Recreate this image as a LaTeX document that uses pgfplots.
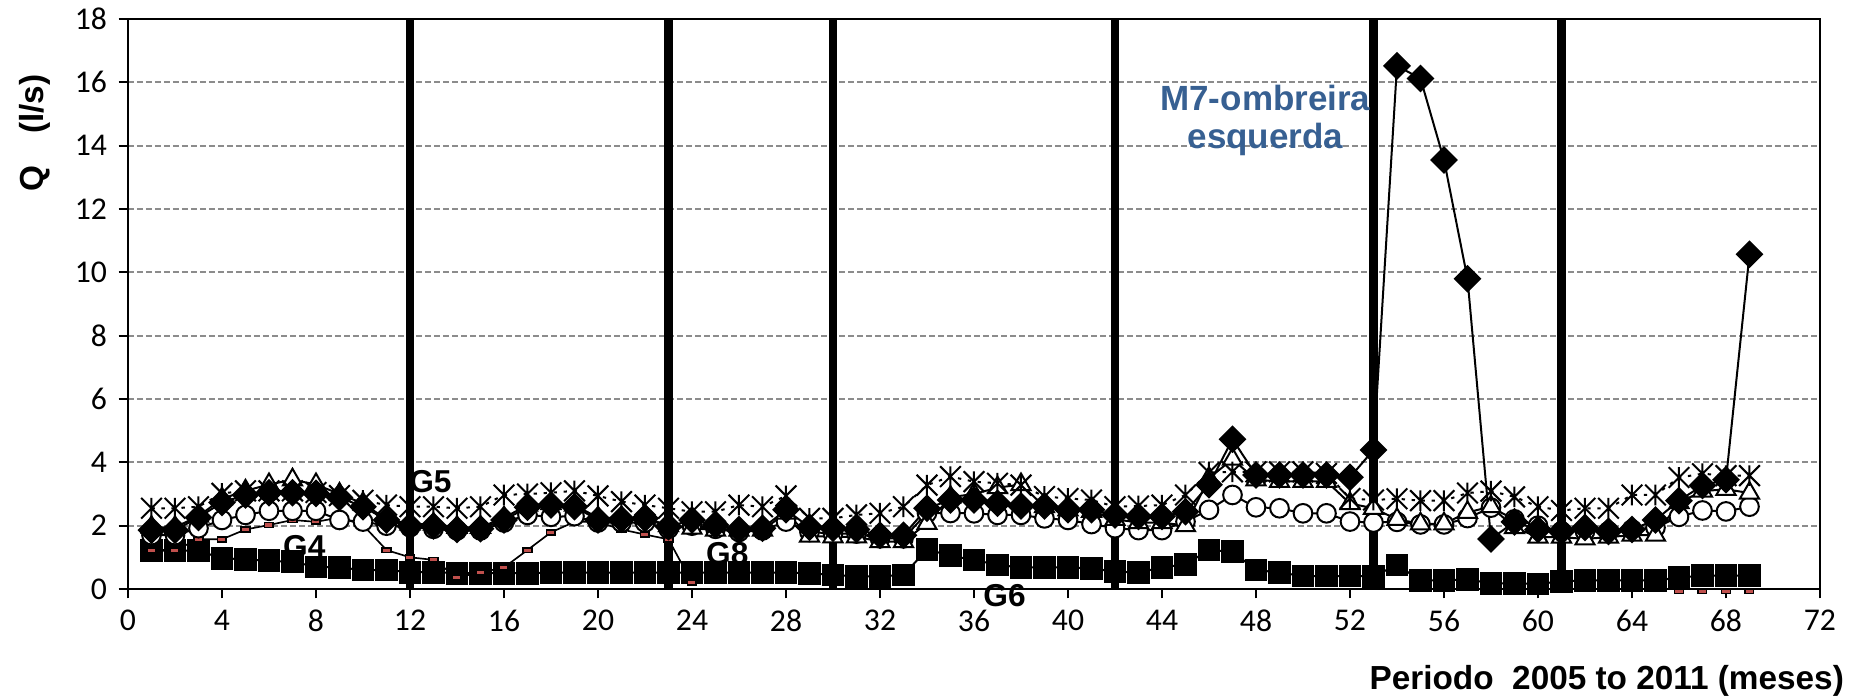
\documentclass[border=0pt]{standalone}
\usepackage{pgfplots}
\pgfplotsset{compat=1.18}
\usepackage{pgfplotstable}
\usepackage{fontspec}
\setmainfont{Liberation Sans}
\newfontfamily\carl{Carlito}
\definecolor{gridgray}{RGB}{140,140,140}
\definecolor{redmark}{RGB}{192,80,77}
\definecolor{lblblue}{RGB}{55,96,146}

\pgfdeclareplotmark{xstar}{%
 \pgfpathmoveto{\pgfqpoint{0pt}{\pgfplotmarksize}}%
 \pgfpathlineto{\pgfqpoint{0pt}{-\pgfplotmarksize}}%
 \pgfpathmoveto{\pgfqpoint{-\pgfplotmarksize}{\pgfplotmarksize}}%
 \pgfpathlineto{\pgfqpoint{\pgfplotmarksize}{-\pgfplotmarksize}}%
 \pgfpathmoveto{\pgfqpoint{-\pgfplotmarksize}{-\pgfplotmarksize}}%
 \pgfpathlineto{\pgfqpoint{\pgfplotmarksize}{\pgfplotmarksize}}%
 \pgfusepathqstroke}

\pgfplotstableread{
x S D C T A
1 1.21 1.86 1.70 1.95 2.55
2 1.21 1.86 1.70 1.95 2.55
3 1.21 2.26 1.92 2.30 2.60
4 0.97 2.73 2.18 2.85 3.02
5 0.94 2.97 2.34 3.10 3.10
6 0.89 3.04 2.47 3.30 3.10
7 0.86 3.04 2.47 3.45 3.10
8 0.70 3.02 2.47 3.30 3.05
9 0.68 2.89 2.18 3.00 2.95
10 0.60 2.60 2.13 2.70 2.80
11 0.60 2.18 2.00 2.20 2.65
12 0.53 1.99 1.95 2.05 2.60
13 0.53 1.99 1.90 2.05 2.60
14 0.50 1.88 1.85 1.95 2.55
15 0.50 1.90 1.85 1.95 2.60
16 0.50 2.18 2.10 2.25 2.97
17 0.50 2.58 2.34 2.65 3.00
18 0.52 2.65 2.28 2.70 3.04
19 0.52 2.60 2.30 2.65 3.10
20 0.52 2.18 2.10 2.25 2.94
21 0.52 2.20 2.10 2.25 2.76
22 0.52 2.23 2.10 2.25 2.65
23 0.52 1.97 1.90 2.00 2.55
24 0.52 2.18 2.00 1.92 2.44
25 0.52 2.02 1.90 1.86 2.44
26 0.52 1.88 1.80 1.86 2.65
27 0.52 1.92 1.85 1.86 2.60
28 0.52 2.50 2.13 2.40 2.94
29 0.50 1.95 1.80 1.67 2.23
30 0.44 1.92 1.75 1.65 2.23
31 0.40 1.88 1.75 1.65 2.34
32 0.40 1.70 1.60 1.50 2.39
33 0.44 1.70 1.60 1.50 2.60
34 1.25 2.55 2.40 2.07 3.28
35 1.05 2.81 2.40 2.90 3.55
36 0.92 2.81 2.39 3.00 3.39
37 0.76 2.71 2.34 3.20 3.34
38 0.68 2.62 2.34 3.30 3.28
39 0.68 2.62 2.23 2.60 2.92
40 0.68 2.50 2.18 2.50 2.86
41 0.65 2.50 2.05 2.45 2.81
42 0.55 2.34 1.92 2.20 2.60
43 0.52 2.29 1.86 2.10 2.62
44 0.68 2.29 1.86 2.10 2.65
45 0.78 2.44 2.13 2.00 2.97
46 1.23 3.29 2.50 3.50 3.68
47 1.18 4.73 2.97 4.10 3.70
48 0.60 3.60 2.58 3.45 3.70
49 0.52 3.60 2.55 3.40 3.70
50 0.41 3.60 2.39 3.40 3.70
51 0.41 3.60 2.39 3.40 3.65
52 0.41 3.53 2.13 2.70 2.86
53 0.40 4.39 2.10 2.55 2.81
54 0.76 16.52 2.12 2.20 2.85
55 0.27 16.12 2.04 2.06 2.79
56 0.27 13.55 2.04 2.06 2.79
57 0.30 9.80 2.24 2.42 3.03
58 0.18 1.58 2.57 2.60 3.09
59 0.18 2.12 2.20 1.94 2.91
60 0.16 1.88 2.00 1.64 2.60
61 0.24 1.82 1.82 1.64 2.48
62 0.27 1.94 1.82 1.58 2.55
63 0.27 1.82 1.82 1.64 2.55
64 0.27 1.88 1.88 1.70 2.97
65 0.27 2.18 1.94 1.70 2.97
66 0.36 2.79 2.28 2.73 3.52
67 0.42 3.27 2.48 3.09 3.64
68 0.42 3.45 2.45 3.15 3.58
69 0.42 10.57 2.60 3.03 3.58
}\maindata

\pgfplotstableread{
x R
1 1.23
2 1.23
3 1.57
4 1.57
5 1.88
6 2.02
7 2.18
8 2.12
9 2.26
10 2.02
11 1.23
12 1.00
13 0.92
14 0.37
15 0.52
16 0.68
17 1.23
18 1.79
19 2.12
20 2.12
21 1.88
22 1.72
23 1.57
24 0.20
}\reddata

\pgfplotstableread{
x R
66 -0.07
67 -0.07
68 -0.07
69 -0.07
}\redend

\pgfplotstableread{
x y
12 0
12 18
nan nan
23 0
23 18
nan nan
30 0
30 18
nan nan
42 0
42 18
nan nan
53 0
53 18
nan nan
61 0
61 18
}\vlines

\begin{document}
\begin{tikzpicture}
\begin{axis}[
  name=ax,
  scale only axis,
  width=507.6pt, height=171pt,
  xmin=0, xmax=72, ymin=0, ymax=18,
  xtick={0,4,...,72}, ytick={0,2,...,18},
  tick pos=left,
  tick align=outside,
  major tick length=2.8pt,
  tick style={black, line width=0.6pt},
  axis line style={black, line width=0.8pt},
  ymajorgrids,
  major grid style={gridgray, line width=0.6pt, dash pattern=on 1.8pt off 0.9pt},
  /pgf/number format/assume math mode=true,
  ticklabel style={font=\carl\fontsize{9.5}{10}\selectfont},
  clip=false,
  unbounded coords=jump,
]
\addplot[black, line width=0.6pt, mark=square*, mark size=3.1pt, mark options={solid, fill=black}] table[x=x, y=S]{\maindata};
\addplot[black, line width=0.5pt, mark=square*, mark size=1.3pt, mark options={solid, fill=redmark, draw=none, yscale=0.55}] table[x=x, y=R]{\reddata};
\addplot[only marks, mark=square*, mark size=1.3pt, mark options={solid, fill=redmark, draw=none, yscale=0.55}] table[x=x, y=R]{\redend};
\addplot[black, line width=0.6pt, mark=*, mark size=2.8pt, mark options={solid, fill=white, line width=0.6pt}] table[x=x, y=C]{\maindata};
\addplot[black, line width=0.6pt, mark=triangle*, mark size=3.3pt, mark options={solid, fill=white, line width=0.6pt}] table[x=x, y=T]{\maindata};
\addplot[black, line width=0.6pt, dash pattern=on 1pt off 2pt, mark=xstar, mark size=3.1pt, mark options={solid, line width=0.6pt}] table[x=x, y=A]{\maindata};
\addplot[black, line width=0.6pt, mark=square*, mark size=2.65pt, mark options={solid, fill=black, rotate=45}] table[x=x, y=D]{\maindata};
\addplot[black, line width=2.5pt] table[x=x, y=y]{\vlines};

\node[font=\bfseries\fontsize{9.5}{10}\selectfont] at (axis cs:12.87,3.38) {G5};
\node[font=\bfseries\fontsize{9.5}{10}\selectfont] at (axis cs:7.5,1.33) {G4};
\node[font=\bfseries\fontsize{9.5}{10}\selectfont] at (axis cs:25.5,1.13) {G8};
\node[font=\bfseries\fontsize{9.5}{10}\selectfont] at (axis cs:37.3,-0.22) {G6};
\node[font=\bfseries\fontsize{10.5}{11.6}\selectfont, text=lblblue, align=center] at (axis cs:48.4,14.8) {M7-ombreira\\esquerda};
\node[font=\bfseries\fontsize{10}{12}\selectfont, rotate=90] at (rel axis cs:-0.055,0.80) {Q\hspace{9.5pt}(l/s)};
\node[font=\bfseries\fontsize{10}{12}\selectfont] at (rel axis cs:0.874,0) [yshift=-27.5pt] {Periodo\ \ 2005 to 2011 (meses)};
\end{axis}
\pgfresetboundingbox
\path[use as bounding box] (ax.south west) ++(-38.4pt,-32.4pt) rectangle ++(558.9pt,209.1pt);
\end{tikzpicture}
\end{document}
